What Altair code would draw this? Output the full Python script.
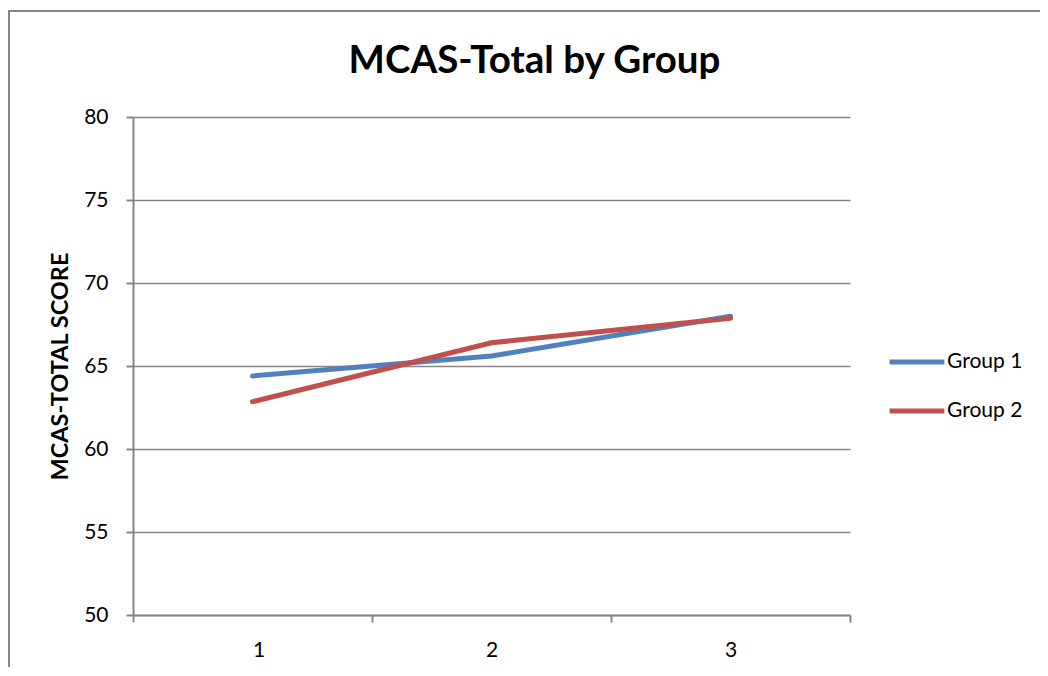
import altair as alt
import pandas as pd

categories = [1, 2, 3]
group1 = [64.4, 65.6, 68.0]
group2 = [62.85, 66.4, 67.87]
series_names = ["Group 1", "Group 2"]
colors = ["#4F81BD", "#C0504D"]

rows = []
for c, v in zip(categories, group1):
    rows.append({"cat": c, "score": v, "series": series_names[0]})
for c, v in zip(categories, group2):
    rows.append({"cat": c, "score": v, "series": series_names[1]})
df = pd.DataFrame(rows)

W, H = 717, 498
FONT = "Lato"

lines = alt.Chart(df).mark_line(strokeWidth=5, strokeCap="round", strokeJoin="round").encode(
    x=alt.X("cat:Q",
            scale=alt.Scale(domain=[0.5, 3.5], nice=False, zero=False),
            axis=alt.Axis(values=[0.5, 1.5, 2.5, 3.5],
                          labelExpr="datum.value < 3 ? format(datum.value + 0.5, 'd') : ''",
                          labelOffset=W / 6, title=None, grid=False,
                          domainColor="#868686", domainWidth=2,
                          tickColor="#868686", tickWidth=2, tickSize=7,
                          labelFont=FONT, labelFontSize=21, labelColor="#000000",
                          labelPadding=17)),
    y=alt.Y("score:Q",
            scale=alt.Scale(domain=[50, 80], nice=False, zero=False),
            axis=alt.Axis(values=[50, 55, 60, 65, 70, 75, 80],
                          title="MCAS-TOTAL SCORE",
                          titleFont=FONT, titleFontSize=23.5, titleFontWeight="bold",
                          titleColor="#000000", titlePadding=11,
                          grid=True, gridColor="#868686", gridWidth=1.5,
                          domainColor="#868686", domainWidth=2,
                          tickColor="#868686", tickWidth=2, tickSize=7,
                          labelFont=FONT, labelFontSize=21, labelColor="#000000",
                          labelPadding=18)),
    color=alt.Color("series:N",
                    scale=alt.Scale(domain=series_names, range=colors),
                    legend=alt.Legend(title=None, orient="none",
                                      legendX=754, legendY=215,
                                      symbolType="stroke", symbolStrokeWidth=5,
                                      symbolSize=3000, symbolOffset=0,
                                      labelFont=FONT, labelFontSize=21,
                                      labelColor="#000000", rowPadding=9,
                                      labelOffset=0)),
)

border = alt.Chart(pd.DataFrame({"a": [0]})).mark_rect(
    fill=None, stroke="#868686", strokeWidth=2, clip=False
).encode(
    x=alt.value(-124), x2=alt.value(1200),
    y=alt.value(-106), y2=alt.value(900),
)

chart = alt.layer(border, lines).properties(
    width=W, height=H,
    autosize=alt.AutoSizeParams(type="none"),
    padding={"left": 125, "top": 109, "right": 190, "bottom": 52},
    title=alt.TitleParams("MCAS-Total by Group", font=FONT, fontSize=38.5,
                          fontWeight="bold", color="#000000",
                          anchor="middle", dx=43, offset=0, dy=71),
).configure_view(stroke=None)

chart.save("out.html", embed_options={"renderer": "svg", "actions": False})
